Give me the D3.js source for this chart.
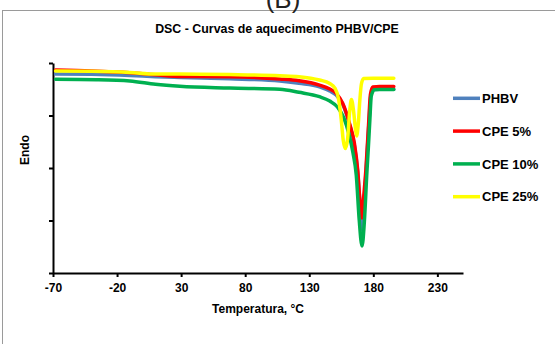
<!DOCTYPE html>
<html>
<head>
<meta charset="utf-8">
<script src="https://cdn.jsdelivr.net/npm/d3@7"></script>
<style>
body { margin: 0; background: #fff; }
svg text { font-family: "Liberation Sans", Arial, sans-serif; }
</style>
</head>
<body>
<svg id="dsc" width="555" height="344"></svg>
<script>
var xTicks = [-70, -20, 30, 80, 130, 180, 230];
var yTicks = [0, 5, 10, 15, 20];

var seriesNames = ["PHBV", "CPE 5%", "CPE 10%", "CPE 25%"];
var seriesColors = ["#4F81BD", "#FF0000", "#00B050", "#FFFF00"];

var tempPHBV = [-68, -40, -10, 10, 30, 68, 107, 122, 138, 146, 151, 156, 161.3, 165.2, 167.8, 169.7, 171.4, 172.6, 174.4, 176.7, 178, 180, 185, 196];
var flowPHBV = [18.95, 18.92, 18.81, 18.70, 18.62, 18.50, 18.29, 18.07, 17.74, 17.33, 16.95, 16.10, 14.19, 12.19, 9.62, 6.48, 4.10, 6.48, 9.81, 14.57, 16.86, 17.48, 17.50, 17.50];

var tempCPE5 = [-68, -40, -10, 10, 30, 68, 107, 122, 138, 146, 151, 156, 161.3, 165.2, 167.8, 169.5, 171.2, 172.3, 174.2, 176.5, 177.7, 179.6, 185, 196];
var flowCPE5 = [19.33, 19.24, 19.07, 18.88, 18.71, 18.69, 18.48, 18.31, 17.90, 17.52, 17.11, 16.19, 14.29, 12.38, 9.81, 6.95, 5.24, 6.95, 9.81, 14.57, 16.95, 17.71, 17.76, 17.76];

var tempCPE10 = [-68, -36, -10, 10, 29, 68, 107, 122, 138, 146, 152, 157, 161, 164, 166.7, 169, 171.2, 173, 175, 176.1, 177.3, 178.4, 180.8, 185, 196];
var flowCPE10 = [18.45, 18.41, 18.29, 17.97, 17.78, 17.62, 17.50, 17.21, 16.79, 16.38, 15.81, 14.76, 13.24, 11.52, 9.33, 5.05, 2.57, 4.86, 9.62, 11.90, 14.57, 16.86, 17.45, 17.47, 17.47];

var tempCPE25 = [-68, -40, -10, 10, 29, 68, 107, 122, 138, 146, 150, 153, 155, 156.5, 158.2, 160, 161.5, 162.9, 164.5, 166, 167, 168.2, 169.5, 170.7, 172.5, 180, 196];
var flowCPE25 = [19.24, 19.21, 19.10, 18.95, 18.95, 18.90, 18.79, 18.70, 18.38, 18.05, 17.62, 16.48, 14.57, 12.67, 11.86, 12.86, 15.33, 16.52, 15.52, 13.81, 13.05, 14.10, 16.48, 18.00, 18.52, 18.55, 18.55];

var temps = [tempPHBV, tempCPE5, tempCPE10, tempCPE25];
var flows = [flowPHBV, flowCPE5, flowCPE10, flowCPE25];

var svg = d3.select("svg#dsc");

svg.append("rect")
	.attr("x", 2.5)
	.attr("y", 10.5)
	.attr("width", 620)
	.attr("height", 400)
	.attr("fill", "none")
	.attr("stroke", "#9a9a9a")
	.attr("stroke-width", 1);

svg.append("text")
	.attr("x", 283)
	.attr("y", 8)
	.attr("text-anchor", "middle")
	.style("font-size", "26px")
	.attr("fill", "#222")
	.text("(B)");

svg.append("text")
	.attr("x", 277)
	.attr("y", 33)
	.attr("text-anchor", "middle")
	.style("font-size", "12.4px")
	.style("font-weight", "bold")
	.text("DSC - Curvas de aquecimento PHBV/CPE");

var x = d3.scaleLinear().domain([-70, 250]).range([53, 463]);
var y = d3.scaleLinear().domain([0, 20]).range([273, 63]);

var xAxis = svg.append("g")
	.attr("transform", "translate(0,273)")
	.call(d3.axisBottom(x)
		.tickValues(xTicks)
		.tickFormat(function(d) { return String(d); })
		.tickSize(4).tickSizeOuter(0).tickPadding(6));

var yAxis = svg.append("g")
	.attr("transform", "translate(53,0)")
	.call(d3.axisLeft(y).tickValues(yTicks).tickSize(4).tickSizeOuter(0).tickFormat(""));

svg.selectAll(".domain").attr("stroke", "#000").attr("stroke-width", 2);
svg.selectAll(".tick line").attr("stroke", "#000").attr("stroke-width", 2);
xAxis.selectAll("text")
	.attr("fill", "#000")
	.style("font-size", "12px")
	.style("font-weight", "bold")
	.style("font-family", "'Liberation Sans', Arial, sans-serif");

svg.append("text")
	.attr("x", 258)
	.attr("y", 313)
	.attr("text-anchor", "middle")
	.style("font-size", "12px")
	.style("font-weight", "bold")
	.text("Temperatura, °C");

svg.append("text")
	.attr("transform", "translate(29,150) rotate(-90)")
	.attr("text-anchor", "middle")
	.style("font-size", "12px")
	.style("font-weight", "bold")
	.text("Endo");

var line = d3.line()
	.x(function(d) { return x(d[0]); })
	.y(function(d) { return y(d[1]); })
	.curve(d3.curveMonotoneX);

var series = seriesNames.map(function(name, i) {
	return {
		name: name,
		color: seriesColors[i],
		points: temps[i].map(function(t, j) { return [t, flows[i][j]]; })
	};
});

svg.append("g").selectAll("path")
	.data(series)
	.enter().append("path")
	.attr("d", function(d) { return line(d.points); })
	.attr("fill", "none")
	.attr("stroke", function(d) { return d.color; })
	.attr("stroke-width", 3.5)
	.attr("stroke-linejoin", "round")
	.attr("stroke-linecap", "round");

var legend = svg.append("g").selectAll("g")
	.data(series)
	.enter().append("g")
	.attr("transform", function(d, i) { return "translate(453," + (98.3 + i * 32.8) + ")"; });

legend.append("line")
	.attr("x1", 0)
	.attr("x2", 27)
	.attr("stroke", function(d) { return d.color; })
	.attr("stroke-width", 3.5);

legend.append("text")
	.attr("x", 29)
	.attr("dy", "0.36em")
	.style("font-size", "13px")
	.style("font-weight", "bold")
	.text(function(d) { return d.name; });
</script>
</body>
</html>
